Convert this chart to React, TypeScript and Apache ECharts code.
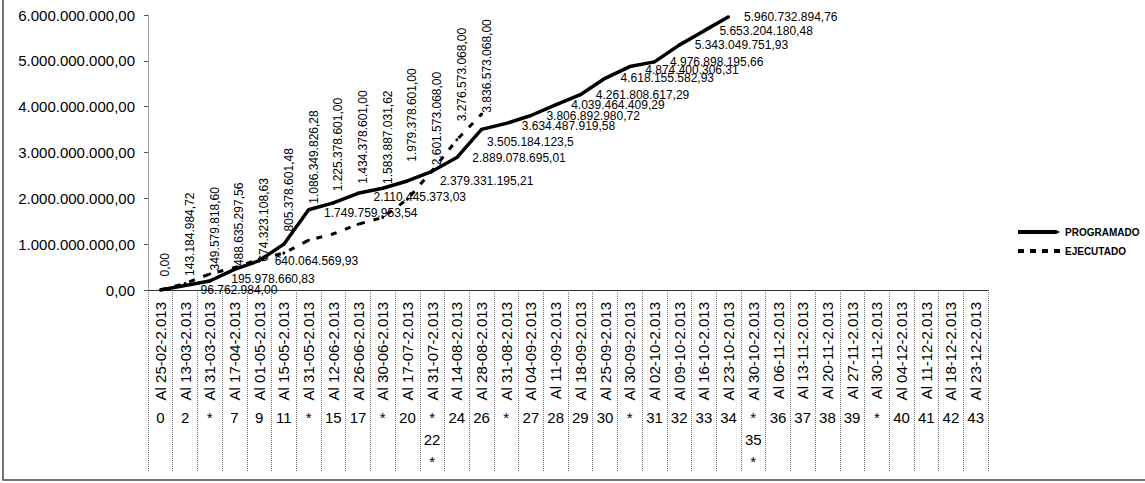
import React, { useEffect, useRef } from "react";
import * as echarts from "echarts";

// ---------- DATA ----------
const fechas = [
  "Al 25-02-2.013", "Al 13-03-2.013", "Al 31-03-2.013", "Al 17-04-2.013", "Al 01-05-2.013",
  "Al 15-05-2.013", "Al 31-05-2.013", "Al 12-06-2.013", "Al 26-06-2.013", "Al 30-06-2.013",
  "Al 17-07-2.013", "Al 31-07-2.013", "Al 14-08-2.013", "Al 28-08-2.013", "Al 31-08-2.013",
  "Al 04-09-2.013", "Al 11-09-2.013", "Al 18-09-2.013", "Al 25-09-2.013", "Al 30-09-2.013",
  "Al 02-10-2.013", "Al 09-10-2.013", "Al 16-10-2.013", "Al 23-10-2.013", "Al 30-10-2.013",
  "Al 06-11-2.013", "Al 13-11-2.013", "Al 20-11-2.013", "Al 27-11-2.013", "Al 30-11-2.013",
  "Al 04-12-2.013", "Al 11-12-2.013", "Al 18-12-2.013", "Al 23-12-2.013",
];

const semanas = [
  "0", "2", "*", "7", "9", "11", "*", "15", "17", "*", "20", "*\n22\n*", "24", "26", "*",
  "27", "28", "29", "30", "*", "31", "32", "33", "34", "*\n35\n*", "36", "37", "38", "39", "*",
  "40", "41", "42", "43",
];

const programado = [
  0, 96762984.0, 195978660.83, 450000000, 640064569.93, 1000000000, 1749759953.54,
  1900000000, 2110445373.03, 2220000000, 2379331195.21, 2590000000, 2889078695.01,
  3505184123.5, 3634487919.58, 3806892980.72, 4039464409.29, 4261808617.29,
  4618155582.93, 4874400306.31, 4976898195.66, 5343049751.93, 5653204180.48,
  5960732894.76,
];

const ejecutado = [
  0, 143184984.72, 349579818.6, 488635297.56, 674323108.63, 805378601.48,
  1086349826.28, 1225378601.0, 1434378601.0, 1583887031.62, 1979378601.0,
  2601573068.0, 3276573068.0, 3836573068.0,
];

const yTicks = { min: 0, max: 6000000000, interval: 1000000000 };

// points of PROGRAMADO whose value carries no label in the original (estimated values)
const programadoSinEtiqueta = [0, 3, 5, 7, 9, 11];
const programadoDecimales: Record<number, number> = { 13: 1 };

// ---------- STYLE ----------
const FONT = "'Liberation Sans', Arial, sans-serif";

const programadoLabelOffset: Record<number, [number, number]> = {
  1: [0, 4],
  2: [6, -2],
  6: [0, 3],
  8: [0, 4],
  10: [17, 0],
  13: [-10, 13],
  14: [0, 3],
  19: [0, 3],
};
const ejecutadoLabelDistance = [12, 6, 2, 0, -4, 20, 35, 41, 39, 32, 36, 4, 17, 0];

function fmt(v: number, dec = 2): string {
  const s = v.toFixed(dec);
  const [i, d] = s.split(".");
  const ip = i.replace(/\B(?=(\d{3})+(?!\d))/g, ".");
  return d !== undefined ? ip + "," + d : ip;
}

export default function App() {
  const ref = useRef<HTMLDivElement>(null);

  useEffect(() => {
    if (!ref.current) return;
    const chart = echarts.init(ref.current, undefined, { renderer: "svg" });

    const progData = programado.map((v, i) => {
      const hidden = programadoSinEtiqueta.includes(i);
      const off = programadoLabelOffset[i] || [0, 0];
      return {
        value: v,
        label: hidden
          ? { show: false }
          : {
              show: true,
              offset: off,
              formatter: () => fmt(v, programadoDecimales[i] ?? 2),
            },
      };
    });

    const ejeData = ejecutado.map((v, i) => ({
      value: v,
      label: {
        show: true,
        distance: ejecutadoLabelDistance[i],
        formatter: () => fmt(v, 2),
      },
    }));

    const option: any = {
      animation: false,
      backgroundColor: "#ffffff",
      textStyle: { fontFamily: FONT },
      grid: [
        { left: 148, right: 157, top: 15, bottom: 193, outerBoundsMode: "none", containLabel: false },
        { left: 148, right: 157, top: 290, bottom: 12, outerBoundsMode: "none", containLabel: false },
      ],
      xAxis: [
        {
          type: "category",
          gridIndex: 0,
          data: fechas,
          boundaryGap: true,
          axisLine: { show: true, lineStyle: { color: "#333", width: 1 } },
          axisTick: { show: false },
          splitLine: { show: false },
          axisLabel: {
            interval: 0,
            rotate: 90,
            margin: 12,
            fontSize: 15,
            color: "#000",
            fontFamily: FONT,
          },
        },
        {
          type: "category",
          gridIndex: 0,
          position: "bottom",
          offset: 110,
          data: semanas,
          boundaryGap: true,
          axisLine: { show: false },
          axisTick: { show: false },
          splitLine: { show: false },
          axisLabel: {
            interval: 0,
            margin: 6,
            fontSize: 15,
            lineHeight: 22,
            color: "#000",
            fontFamily: FONT,
          },
        },
        {
          type: "category",
          gridIndex: 1,
          data: fechas,
          boundaryGap: true,
          axisLine: { show: false },
          axisTick: { show: false },
          axisLabel: { show: false },
          splitLine: {
            show: true,
            interval: 0,
            lineStyle: { color: "#777", type: "dotted", width: 1 },
          },
        },
      ],
      yAxis: [
        {
          type: "value",
          gridIndex: 0,
          min: yTicks.min,
          max: yTicks.max,
          interval: yTicks.interval,
          axisLine: { show: true, lineStyle: { color: "#888", type: "dotted" } },
          axisTick: { show: true, length: 4, lineStyle: { color: "#555" } },
          splitLine: { show: false },
          axisLabel: {
            margin: 13,
            fontSize: 15,
            color: "#000",
            fontFamily: FONT,
            formatter: (v: number) => fmt(v, 2),
          },
        },
        { type: "value", gridIndex: 1, show: false, min: 0, max: 1 },
      ],
      legend: {
        orient: "vertical",
        left: 1013,
        top: 222,
        itemWidth: 42,
        itemHeight: 4,
        itemGap: 9,
        symbolKeepAspect: false,
        textStyle: { fontSize: 10, fontWeight: "bold", color: "#000", fontFamily: FONT },
        data: [
          { name: "PROGRAMADO", icon: "path://M0,0L40,0L44,2L40,4L0,4Z" },
          { name: "EJECUTADO", icon: "path://M0,0h6v4h-6z M12,0h6v4h-6z M24,0h6v4h-6z M36,0h6v4h-6z" },
        ],
      },
      series: [
        {
          name: "EJECUTADO",
          type: "line",
          xAxisIndex: 0,
          yAxisIndex: 0,
          data: ejeData,
          symbol: "circle",
          symbolSize: 3,
          itemStyle: { color: "#000" },
          lineStyle: { color: "#000", width: 3, type: [6, 9] },
          label: {
            show: true,
            position: "top",
            rotate: 90,
            align: "left",
            verticalAlign: "middle",
            offset: [0, 5],
            fontSize: 12,
            color: "#000",
            fontFamily: FONT,
          },
          z: 3,
        },
        {
          name: "PROGRAMADO",
          type: "line",
          xAxisIndex: 0,
          yAxisIndex: 0,
          data: progData,
          symbol: "circle",
          symbolSize: 3,
          itemStyle: { color: "#000" },
          lineStyle: { color: "#000", width: 3.5 },
          label: {
            show: true,
            position: "right",
            distance: 14,
            fontSize: 12,
            color: "#000",
            fontFamily: FONT,
          },
          z: 4,
        },
      ],
      graphic: [
        {
          type: "polyline",
          shape: { points: [[3, 0], [3, 480], [1145, 480]] },
          style: { stroke: "#444", lineWidth: 1.5, fill: null },
          silent: true,
        },
      ],
    };

    chart.setOption(option);
    return () => chart.dispose();
  }, []);

  return (
    <div
      ref={ref}
      style={{ position: "absolute", left: 0, top: 0, width: 1145, height: 483 }}
    />
  );
}
